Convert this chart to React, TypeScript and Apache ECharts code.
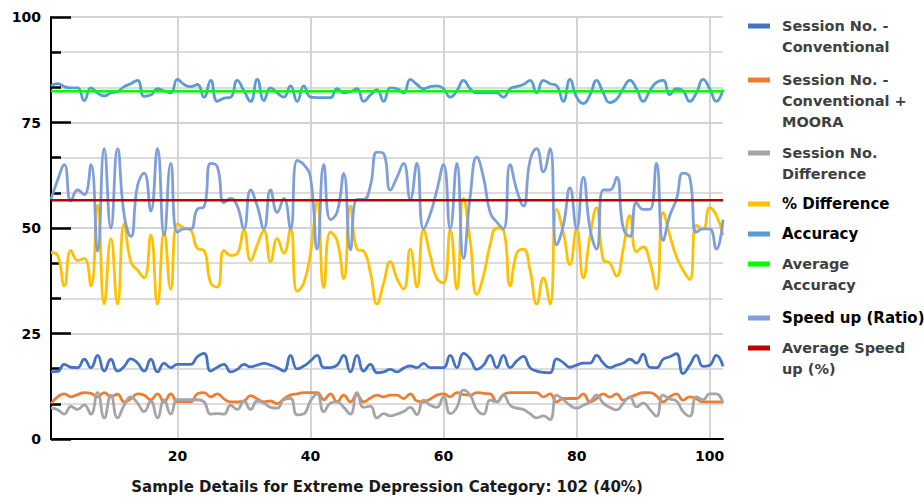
import React, { useEffect, useRef } from "react";
import * as echarts from "echarts";

const categories: string[] = Array.from({ length: 102 }, (_, i) => String(i + 1));

const sessionConventional: number[] = [
  15.9, 16, 17.7, 17, 16.9, 18.9, 16.9, 19.8, 16.1, 18.9,
  16.1, 17.2, 19, 18, 16.1, 18.9, 15.9, 17.9, 16.9, 17.7,
  17.7, 17.7, 19.5, 20.3, 16.1, 17, 17.7, 15.9, 16.5, 17.7,
  17.1, 17.5, 17.9, 17.5, 16.9, 16.1, 19.8, 16.6, 17.3, 18.5,
  19.8, 16.9, 16.9, 17.5, 19.8, 15.9, 19.8, 16.1, 17.7, 15.7,
  15.9, 16.5, 15.9, 16.8, 17.3, 16.9, 17.9, 16.9, 16.9, 16.9,
  19.8, 16.9, 20.3, 19, 16.5, 17.5, 19.8, 16.9, 19.8, 16.9,
  18.5, 19.6, 16.9, 16.1, 15.8, 15.7, 19, 18.1, 17, 17.5,
  18, 18, 19.8, 18, 16.9, 17.5, 18, 18.9, 18, 20.1,
  17, 16.9, 18.9, 19.5, 20.2, 15.5, 17.5, 19.8, 17.2, 17.5,
  19.8, 17.2,
];

const sessionMoora: number[] = [
  8.4, 10, 10.7, 10, 10.5, 11, 10.8, 10, 11, 10,
  10.6, 8.8, 9.5, 10.7, 10.4, 9.3, 10.7, 8.8, 10.7, 8.8,
  8.8, 8.8, 10.7, 11, 10, 10.7, 9.5, 8.8, 8.8, 9,
  10.3, 9.5, 8.8, 9, 8.4, 9.5, 10.4, 10.7, 11, 11,
  11, 9.3, 10.7, 8.8, 10.4, 8.8, 10.4, 8.8, 9.7, 10.4,
  10, 10.4, 10.4, 9.6, 10.7, 9, 8.8, 9.5, 10.4, 10.7,
  10, 11, 10.5, 10.4, 11, 10.8, 10.7, 8.8, 10.5, 11,
  11, 11, 11, 11, 10, 10.7, 8.8, 9.6, 9.6, 9.6,
  10.7, 8.8, 9.6, 10.7, 9.9, 10.7, 9.2, 9.9, 10.5, 11,
  11, 10.2, 8.8, 10, 10.7, 9.2, 10, 9.5, 8.8, 8.8,
  8.8, 8.8,
];

const sessionDifference: number[] = [
  7.3, 6.9, 5.9, 7.7, 7, 8.1, 5.9, 11, 5, 10.4,
  5, 8, 10, 8.5, 6.5, 9, 5, 9.3, 5.9, 9.3,
  9.3, 9.3, 9.3, 8.8, 5.9, 6, 5.9, 8, 7, 9,
  7, 9, 8.5, 7.5, 7.3, 9.3, 9.6, 5.7, 6, 9,
  10.7, 6.5, 8.5, 8.8, 7.5, 5.9, 11, 7.5, 7.8, 5,
  6, 5.5, 5.9, 6.5, 7.5, 5.8, 9.2, 8, 7.5, 10,
  6, 7.5, 11.6, 10.4, 7, 5.9, 9.2, 8.8, 10.4, 8,
  7.3, 7, 6, 5, 5.5, 4.6, 10.4, 9.3, 8, 7.3,
  8, 8.8, 10.4, 8.5, 7.5, 6.9, 8.5, 10, 7.6, 8.5,
  7, 5.4, 10.4, 9.5, 9, 6.5, 5.4, 10, 9.3, 10.7,
  10.7, 8.5,
];

const pctDifference: number[] = [
  44.2, 43.5, 36.3, 44.7, 42.3, 42.8, 36.3, 55.5, 32, 47.5,
  32, 51, 42, 40, 38.2, 48.3, 32, 49, 35.5, 51,
  50, 49.5, 45.2, 44.7, 37, 36, 44.7, 43.5, 44, 49.4,
  42.3, 46, 49.4, 42, 47.5, 44, 49.7, 35, 37, 44,
  56, 35.9, 49, 47, 38, 55.2, 45, 44.5, 39.5, 32,
  37, 42, 38, 35.5, 45, 36, 49.6, 43.5, 38, 37,
  49.5, 35.5, 57, 47, 34.3, 38.7, 46, 50, 49.5, 36.3,
  44, 45, 40, 32, 38.2, 32, 54.4, 49, 41.3, 49.8,
  38.2, 48, 54.8, 42.5, 41.7, 38.6, 45, 52.9, 44.4, 45.5,
  42, 35.5, 53.7, 48.3, 43.2, 40, 37.8, 50.6, 49.8, 54.8,
  53, 48.3,
];

const accuracy: number[] = [
  83.7, 84.2, 83.5, 83.2, 83.2, 80.2, 83.2, 82, 81.3, 82,
  82.3, 83.5, 84.2, 85, 81.2, 81.5, 83, 82.5, 82, 85.2,
  84, 83.5, 84, 81, 85, 80, 80.8, 81, 85, 82.5,
  80, 85.2, 80.2, 83.2, 82, 81, 83.7, 80, 83.7, 81,
  80.9, 80.9, 80.9, 83, 82, 82.3, 83, 80, 81.5, 82.8,
  80, 83.2, 83, 82, 85.2, 84, 83, 83.5, 83.7, 83,
  81, 82.5, 85, 83, 82, 82, 82, 82, 81, 83,
  83.5, 84, 85, 82, 85, 84.2, 83.7, 80, 85.2, 81,
  79.5, 81.5, 85, 82, 79.7, 80.5, 83, 85, 83, 80,
  82.5, 84.5, 85, 81.6, 83, 82.5, 80, 82, 85.2, 83,
  80, 82.8,
];

const speedUp: number[] = [
  56.8, 61.4, 65, 56.4, 59, 57.9, 65, 44.5, 68.8, 50,
  68.8, 53, 48, 60, 63, 54, 68.8, 48.3, 65.3, 49,
  49.8, 49.8, 54.5, 55, 65.3, 64.5, 56, 57, 55.2, 49.8,
  59, 55.2, 49.8, 59, 53.7, 57, 49.8, 66, 65, 62,
  45, 65, 52, 53.7, 62.9, 44.8, 56.8, 56.8, 60, 68,
  67.6, 59, 62, 65.3, 56.8, 65.3, 49.8, 53.3, 59, 65,
  49.8, 65.3, 42.8, 57.5, 66.8, 62, 53.7, 51.4, 49.8, 65,
  59, 55.2, 66, 68.8, 63.3, 68.8, 46, 50.6, 59.5, 49.8,
  62, 50, 45, 59, 59, 62, 50, 48, 56, 54.4,
  54.4, 65.3, 47, 52.9, 56.8, 63, 62, 49, 49.8, 49.8,
  45, 52,
];

const AVG_ACCURACY = 82.4;
const AVG_SPEED_UP = 56.6;

const yTicks: number[] = [0, 25, 50, 75, 100];
const xTickLabels: string[] = ["20", "40", "60", "80", "100"];

const seriesNames: string[] = [
  "Session No. - Conventional",
  "Session No. - Conventional + MOORA",
  "Session No. Difference",
  "% Difference",
  "Accuracy",
  "Average Accuracy",
  "Speed up (Ratio)",
  "Average Speed up (%)",
];

const legendLabels: string[] = [
  "Session No. -\nConventional",
  "Session No. -\nConventional +\nMOORA",
  "Session No.\nDifference",
  "% Difference",
  "Accuracy",
  "Average\nAccuracy",
  "Speed up (Ratio)",
  "Average Speed\nup (%)",
];

const colors: string[] = [
  "#4472C4",
  "#ED7D31",
  "#A5A5A5",
  "#FFC000",
  "#5B9BD5",
  "#00FF00",
  "#7E9FDA",
  "#C00000",
];

const legendCenters: number[] = [26, 80, 153, 204, 234, 264, 318, 348];
const legendDark: boolean[] = [false, false, false, true, true, false, true, false];

export default function App() {
  const ref = useRef<HTMLDivElement>(null);

  useEffect(() => {
    if (!ref.current) return;
    const chart = echarts.init(ref.current, undefined, { renderer: "svg" });
    const font = "DejaVu Sans";
    const LH = 21;

    const dataSets: number[][] = [
      sessionConventional,
      sessionMoora,
      sessionDifference,
      pctDifference,
      accuracy,
      categories.map(() => AVG_ACCURACY),
      speedUp,
      categories.map(() => AVG_SPEED_UP),
    ];

    const legends = seriesNames.map((name, i) => {
      const n = legendLabels[i].split("\n").length;
      const m = 2 * n - 1;
      const label = "\n".repeat(n - 1) + legendLabels[i];
      const dark = legendDark[i];
      return {
        data: [name],
        left: 748,
        top: legendCenters[i] - (m * LH) / 2,
        orient: "vertical",
        padding: 0,
        icon: "rect",
        itemWidth: 22,
        itemHeight: 5,
        selectedMode: false,
        formatter: () => label,
        textStyle: {
          fontFamily: font,
          fontSize: dark ? 15 : 14.5,
          fontWeight: "bold",
          color: dark ? "#000000" : "#404040",
          lineHeight: LH,
          padding: [0, 0, 0, 7],
        },
      };
    });

    const isLabelIdx = (idx: number) => xTickLabels.includes(categories[idx]);

    chart.setOption({
      animation: false,
      backgroundColor: "#ffffff",
      grid: { left: 51, right: 201, top: 17, bottom: 51, containLabel: false },
      legend: legends,
      xAxis: {
        type: "category",
        data: categories,
        boundaryGap: false,
        name: "Sample Details for Extreme Depression Category: 102 (40%)",
        nameLocation: "middle",
        nameGap: 40,
        nameTextStyle: { fontFamily: font, fontSize: 15, fontWeight: "bold", color: "#1a1a1a" },
        axisLine: { show: true, lineStyle: { color: "#000000", width: 2 } },
        axisTick: { show: false },
        axisLabel: {
          interval: (idx: number) => isLabelIdx(idx),
          fontFamily: font,
          fontSize: 14,
          fontWeight: "bold",
          color: "#000000",
          margin: 10,
        },
        splitLine: {
          show: true,
          interval: (idx: number) => isLabelIdx(idx),
          lineStyle: { color: "#d4d4d4", width: 2 },
        },
      },
      yAxis: {
        type: "value",
        min: yTicks[0],
        max: yTicks[yTicks.length - 1],
        interval: 25,
        axisLine: { show: true, lineStyle: { color: "#000000", width: 2 } },
        axisTick: { show: true, inside: true, length: 20, lineStyle: { color: "#000000", width: 2.5 } },
        minorTick: { show: true, splitNumber: 3, length: 10, lineStyle: { color: "#000000", width: 2.5 } },
        axisLabel: {
          fontFamily: font,
          fontSize: 14,
          fontWeight: "bold",
          color: "#000000",
          margin: 10,
        },
        splitLine: { show: true, lineStyle: { color: "#d4d4d4", width: 2 } },
        minorSplitLine: { show: true, lineStyle: { color: "#dcdcdc", width: 2 } },
      },
      series: seriesNames.map((name, i) => ({
        name,
        type: "line",
        data: dataSets[i],
        smooth: i === 5 || i === 7 ? false : 0.5,
        symbol: "none",
        color: colors[i],
        itemStyle: { color: colors[i] },
        lineStyle: { color: colors[i], width: i === 5 || i === 7 ? 2.5 : 2.8 },
        z: 2 + i,
      })),
    });

    return () => chart.dispose();
  }, []);

  return (
    <div
      ref={ref}
      style={{ position: "fixed", left: 0, top: 0, width: 924, height: 499, background: "#fff" }}
    />
  );
}
